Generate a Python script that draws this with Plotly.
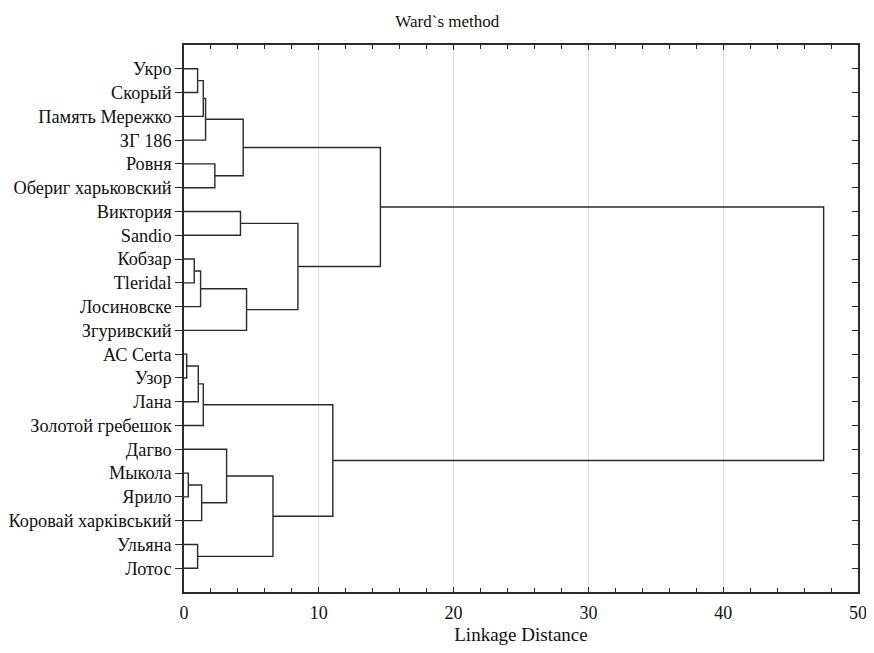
import plotly.graph_objects as go

title_text = "Ward`s method"
x_title = "Linkage Distance"

leaf_labels = [
    "Укро", "Скорый", "Память Мережко", "ЗГ 186", "Ровня", "Обериг харьковский",
    "Виктория", "Sandio", "Кобзар", "Tleridal", "Лосиновске", "Згуривский",
    "АС Certa", "Узор", "Лана", "Золотой гребешок", "Дагво", "Мыкола", "Ярило",
    "Коровай харківський", "Ульяна", "Лотос",
]

# linkage: clusters 0..21 are leaves, each merge creates cluster 22, 23, ...
merge_left = [0, 22, 23, 4, 24, 6, 8, 28, 29, 27, 26, 12, 33, 34, 17, 36, 16, 20, 38, 35, 32]
merge_right = [1, 2, 3, 5, 25, 7, 9, 10, 11, 30, 31, 13, 14, 15, 18, 19, 37, 21, 39, 40, 41]
merge_height = [1.01, 1.43, 1.60, 2.29, 4.39, 4.19, 0.76, 1.23, 4.64, 8.45, 14.57,
                0.20, 1.06, 1.43, 0.32, 1.31, 3.16, 1.01, 6.60, 11.04, 47.45]

x_ticks = [0, 10, 20, 30, 40, 50]

n = len(leaf_labels)
pos = {i: float(i) for i in range(n)}
hgt = {i: 0.0 for i in range(n)}
xs, ys = [], []
for k, (a, b, h) in enumerate(zip(merge_left, merge_right, merge_height)):
    node = n + k
    xs += [hgt[a], h, h, hgt[b], None]
    ys += [pos[a], pos[a], pos[b], pos[b], None]
    pos[node] = (pos[a] + pos[b]) / 2
    hgt[node] = h

line_color = "#2b2b2b"
fig = go.Figure()
fig.add_trace(go.Scatter(x=xs, y=ys, mode="lines",
                         line=dict(color=line_color, width=1.4),
                         hoverinfo="skip", showlegend=False))
# invisible trace on secondary axis to activate right-side ticks
fig.add_trace(go.Scatter(x=[None], y=[None], yaxis="y2", showlegend=False))

font = "Liberation Serif"
yrange = [n - 0.0, -1.0]
fig.update_layout(
    width=858, height=637,
    paper_bgcolor="white", plot_bgcolor="white",
    margin=dict(l=176, r=8, t=37, b=53),
    font=dict(family=font, size=18, color="#111"),
    title=dict(text=title_text, x=0.512, xanchor="center", y=0.98, yanchor="middle",
               font=dict(family=font, size=17, color="#111")),
    xaxis=dict(
        range=[0, 50], tickvals=x_ticks, showgrid=True, gridcolor="#dedede", gridwidth=1,
        zeroline=False, showline=True, linecolor=line_color, linewidth=1.5,
        mirror="ticks", ticks="inside", ticklen=5, tickcolor=line_color, automargin=False,
        ticklabeloverflow="allow", ticklabelstandoff=4,
        minor=dict(dtick=2, ticks="inside", ticklen=4, tickcolor=line_color, showgrid=False),
        title=dict(text=x_title, font=dict(family=font, size=19, color="#111"), standoff=20),
        tickfont=dict(family=font, size=18, color="#111"),
    ),
    yaxis=dict(
        range=yrange, tickvals=list(range(n)), ticktext=leaf_labels, automargin=False,
        showgrid=False, zeroline=False, showline=True, linecolor=line_color, linewidth=1.5,
        ticks="outside", ticklen=7, tickcolor=line_color, ticklabelstandoff=0,
        ticklabeloverflow="allow",
        tickfont=dict(family=font, size=18.3, color="#111"),
    ),
    yaxis2=dict(
        overlaying="y", side="right", range=yrange, tickvals=list(range(n)), automargin=False,
        showticklabels=False, showgrid=False, zeroline=False, showline=True,
        linecolor=line_color, linewidth=1.5, ticks="inside", ticklen=6, tickcolor=line_color,
    ),
)

fig.write_html("out.html")
